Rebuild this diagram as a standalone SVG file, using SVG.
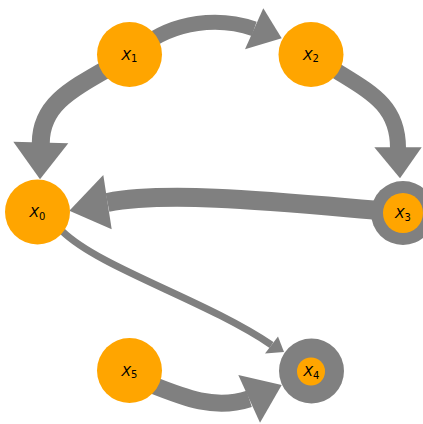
<svg xmlns="http://www.w3.org/2000/svg" width="423" height="424" viewBox="0 0 423 424">
  <style>
    .shaft { fill: none; stroke: #808080; stroke-linecap: butt; }
    .head { fill: #808080; stroke: none; }
    .node { fill: #FFA500; }
    .ring { fill: #808080; }
    .lbl { font-family: "DejaVu Sans", sans-serif; font-size: 14px; fill: #000; text-anchor: middle; }
    .lbl .v { font-style: italic; }
    .lbl .s { font-size: 10px; }
  </style>
  <rect width="423" height="424" fill="#ffffff"/>

  <g id="edges">
    <!-- X1 -> X2 -->
    <path class="shaft" stroke-width="15" d="M 140,48 C 175,20 220,17 254.2,28.8"/>
    <polygon class="head" points="281.7,38.3 263.3,8.3 245,49.3"/>
    <!-- X1 -> X0 -->
    <path class="shaft" stroke-width="18" d="M 112,66 C 70,90 41,105 40.8,143"/>
    <polygon class="head" points="40,179.3 13.3,141.7 68.3,143.3"/>
    <!-- X2 -> X3 -->
    <path class="shaft" stroke-width="16" d="M 335,70 C 370,92 398,105 398,148"/>
    <polygon class="head" points="400,178.3 374.3,147.3 421.7,147.3"/>
    <!-- X3 -> X0 -->
    <path class="shaft" stroke-width="19" d="M 385,211 C 290,203 170,190 107.5,202.5"/>
    <polygon class="head" points="69.3,210.7 103.3,175 111.7,229.3"/>
    <!-- X0 -> X4 -->
    <path class="shaft" stroke-width="7" d="M 62,231 C 100,268 205,300 271.5,345"/>
    <polygon class="head" points="284,352 278,336.5 265,353.5"/>
    <!-- X5 -> X4 -->
    <path class="shaft" stroke-width="17" d="M 150,384 C 185,398 215,410 249.2,398.8"/>
    <polygon class="head" points="281.7,385 238.3,375 260,422.7"/>
  </g>

  <g id="X0">
    <circle class="node" cx="37.5" cy="212" r="32.5"/>
    <text class="lbl" x="37.5" y="217"><tspan class="v">X</tspan><tspan class="s" dy="2.5">0</tspan></text>
  </g>
  <g id="X1">
    <circle class="node" cx="129.5" cy="54.5" r="32.5"/>
    <text class="lbl" x="129.5" y="59.5"><tspan class="v">X</tspan><tspan class="s" dy="2.5">1</tspan></text>
  </g>
  <g id="X2">
    <circle class="node" cx="311" cy="54.5" r="32.5"/>
    <text class="lbl" x="311" y="59.5"><tspan class="v">X</tspan><tspan class="s" dy="2.5">2</tspan></text>
  </g>
  <g id="X3">
    <circle class="ring" cx="403" cy="213" r="32"/>
    <circle class="node" cx="403" cy="213" r="20"/>
    <text class="lbl" x="403" y="218"><tspan class="v">X</tspan><tspan class="s" dy="2.5">3</tspan></text>
  </g>
  <g id="X4">
    <circle class="ring" cx="311.5" cy="371" r="32.5"/>
    <circle class="node" cx="311" cy="371.5" r="14"/>
    <text class="lbl" x="311.5" y="376"><tspan class="v">X</tspan><tspan class="s" dy="2.5">4</tspan></text>
  </g>
  <g id="X5">
    <circle class="node" cx="129.5" cy="370.5" r="32.5"/>
    <text class="lbl" x="129.5" y="375.5"><tspan class="v">X</tspan><tspan class="s" dy="2.5">5</tspan></text>
  </g>
</svg>
